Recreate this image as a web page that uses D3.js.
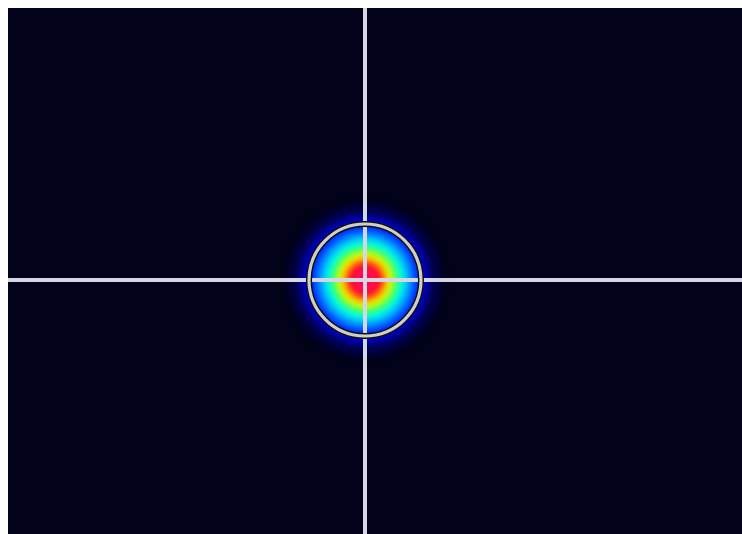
<!DOCTYPE html>
<html><head><meta charset="utf-8">
<script src="https://cdn.jsdelivr.net/npm/d3@7"></script>
<style>html,body{margin:0;padding:0;background:#fff;}svg{display:block;}</style>
</head><body>
<svg id="chart" width="742" height="534"></svg>
<script>
// Sensor frame (pixels)
const sensorSize = [734, 526];
// Beam centroid in sensor pixels
const beamCenter = [357, 272];
// Radial intensity profile (radius px, normalized intensity)
const profileRadius = [0, 4, 8, 12, 16, 20, 24, 28, 32, 36, 40, 44, 48, 52, 56, 60, 64, 68, 72, 76, 80];
const profileIntensity = [1.00, 0.99, 0.96, 0.91, 0.85, 0.77, 0.69, 0.61, 0.52, 0.44, 0.36, 0.29, 0.23, 0.18, 0.14, 0.10, 0.07, 0.05, 0.03, 0.02, 0.0];
// Fitted beam diameter ring (radius px)
const ringRadius = [56];
// Colormap stops
const colorDomain = [0, 0.05, 0.10, 0.18, 0.30, 0.42, 0.55, 0.66, 0.74, 0.82, 1.0];
const colorRange = ["#02021a", "#020255", "#0000c0", "#0030ff", "#00a8ff", "#00ffe8", "#30ff40", "#d8ff00", "#ffc000", "#ff2010", "#ff0060"];

const svg = d3.select("#chart");
const x = d3.scaleLinear().domain([0, sensorSize[0]]).range([8, 742]);
const y = d3.scaleLinear().domain([0, sensorSize[1]]).range([8, 534]);
const r = d3.scaleLinear().domain([0, 1]).range([0, x(1) - x(0)]);
const color = d3.scaleLinear().domain(colorDomain).range(colorRange).interpolate(d3.interpolateRgb).clamp(true);

const defs = svg.append("defs");
defs.append("filter").attr("id", "blur").attr("x", "-50%").attr("y", "-50%").attr("width", "200%").attr("height", "200%")
  .append("feGaussianBlur").attr("stdDeviation", 2.2);
defs.append("filter").attr("id", "soft")
  .append("feGaussianBlur").attr("stdDeviation", 0.6);
defs.append("clipPath").attr("id", "frame").append("rect")
  .attr("x", x(0)).attr("y", y(0)).attr("width", x(sensorSize[0]) - x(0)).attr("height", y(sensorSize[1]) - y(0));

const g = svg.append("g").attr("clip-path", "url(#frame)");
g.append("rect").attr("x", x(0)).attr("y", y(0))
  .attr("width", x(sensorSize[0]) - x(0)).attr("height", y(sensorSize[1]) - y(0))
  .attr("fill", colorRange[0]);

const profile = profileRadius.map((rad, i) => ({rad, v: profileIntensity[i]}));
g.append("g").attr("filter", "url(#blur)")
  .selectAll("circle").data(profile.slice().reverse()).join("circle")
  .attr("cx", x(beamCenter[0])).attr("cy", y(beamCenter[1]))
  .attr("r", d => r(d.rad + 2))
  .attr("fill", d => color(d.v));

// Crosshair
const cross = g.append("g").attr("filter", "url(#soft)");
cross.append("line").attr("x1", x(0)).attr("x2", x(sensorSize[0]))
  .attr("y1", y(beamCenter[1])).attr("y2", y(beamCenter[1]))
  .attr("stroke", "#d6d6e2").attr("stroke-width", 4);
cross.append("line").attr("y1", y(0)).attr("y2", y(sensorSize[1]))
  .attr("x1", x(beamCenter[0])).attr("x2", x(beamCenter[0]))
  .attr("stroke", "#d6d6e2").attr("stroke-width", 4);

// Ring
const ring = g.append("g").attr("filter", "url(#soft)");
ring.selectAll("circle.o").data(ringRadius).join("circle").attr("class", "o")
  .attr("cx", x(beamCenter[0])).attr("cy", y(beamCenter[1])).attr("r", d => r(d))
  .attr("fill", "none").attr("stroke", "#101010").attr("stroke-width", 6);
ring.selectAll("circle.i").data(ringRadius).join("circle").attr("class", "i")
  .attr("cx", x(beamCenter[0])).attr("cy", y(beamCenter[1])).attr("r", d => r(d))
  .attr("fill", "none").attr("stroke", "#cfcfc8").attr("stroke-width", 3.2);
</script>
</body></html>
